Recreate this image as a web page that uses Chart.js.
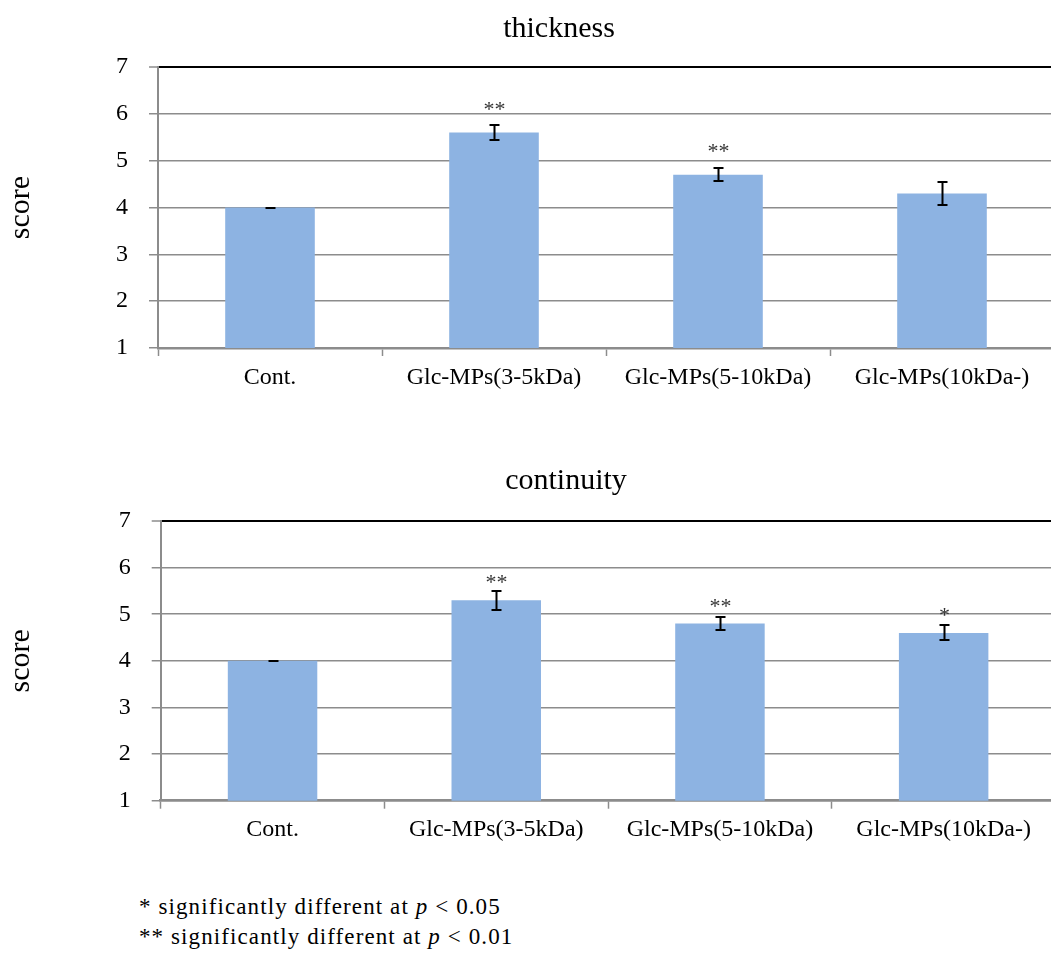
<!DOCTYPE html>
<html>
<head>
<meta charset="utf-8">
<script src="https://cdn.jsdelivr.net/npm/chart.js@4/dist/chart.umd.min.js"></script>
<style>
  html, body { margin: 0; padding: 0; overflow: hidden; background: #fff; width: 1051px; height: 956px; }
  canvas { position: absolute; left: 0; }
  #c1 { top: 0; }
  #c2 { top: 420px; }
  #note {
    position: absolute; left: 139px; top: 892px;
    font-family: "Liberation Serif", "Times New Roman", serif;
    font-size: 23px; letter-spacing: 1.1px; line-height: 30px; color: #000;
    white-space: nowrap;
  }
</style>
</head>
<body>
<canvas id="c1" width="1060" height="420"></canvas>
<canvas id="c2" width="1060" height="440"></canvas>
<div id="note">* significantly different at <i>p</i> &lt; 0.05<br>** significantly different at <i>p</i> &lt; 0.01</div>
<script>
// Groups on the x axis
const categories = ['Cont.', 'Glc-MPs(3-5kDa)', 'Glc-MPs(5-10kDa)', 'Glc-MPs(10kDa-)'];

// Thickness scores: mean, error and significance mark
const thicknessMean = [4.0, 5.6, 4.7, 4.3];
const thicknessErr  = [0.0, 0.16, 0.14, 0.25];
const thicknessSig  = ['', '**', '**', ''];

// Continuity scores: mean, error and significance mark
const continuityMean = [4.0, 5.3, 4.8, 4.6];
const continuityErr  = [0.0, 0.2, 0.14, 0.16];
const continuitySig  = ['', '**', '**', '*'];

// Score axis range
const scoreMin = 1;
const scoreMax = 7;
const scoreStep = 1;

const SERIF = '"Liberation Serif", "Times New Roman", serif';
const GRID = '#8c8c8c';

// Draws the error whiskers and the significance asterisks above each bar
const errorBarPlugin = {
  id: 'errorBars',
  afterDatasetsDraw(chart, args, opts) {
    const { ctx } = chart;
    const y = chart.scales.y;
    const meta = chart.getDatasetMeta(0);
    const values = chart.data.datasets[0].data;
    ctx.save();
    meta.data.forEach((bar, i) => {
      const v = values[i];
      const e = opts.errors[i];
      const hi = Math.round(y.getPixelForValue(v + e));
      const lo = Math.round(y.getPixelForValue(v - e));
      const x = Math.round(bar.x) + 0.5;
      ctx.strokeStyle = '#000';
      ctx.lineWidth = 2;
      ctx.beginPath();
      ctx.moveTo(x, hi); ctx.lineTo(x, lo);
      ctx.moveTo(x - 5, hi); ctx.lineTo(x + 5, hi);
      ctx.moveTo(x - 5, lo); ctx.lineTo(x + 5, lo);
      ctx.stroke();
      if (opts.marks[i]) {
        ctx.fillStyle = '#333';
        ctx.font = '22px ' + SERIF;
        ctx.textAlign = 'center';
        ctx.textBaseline = 'alphabetic';
        ctx.fillText(opts.marks[i], x, bar.y - opts.markGap);
      }
    });
    ctx.restore();
  }
};

// g.padLeft shifts the centred title; the y axis box fills the rest up to the plot edge
function scoreChart(id, title, means, errs, marks, g) {
  return new Chart(document.getElementById(id), {
    type: 'bar',
    data: {
      labels: categories,
      datasets: [{
        data: means,
        backgroundColor: '#8db3e2',
        borderWidth: 0,
        categoryPercentage: 1.0,
        barPercentage: 0.4
      }]
    },
    plugins: [errorBarPlugin],
    options: {
      responsive: false,
      animation: false,
      layout: { padding: { left: g.padLeft, right: g.padRight, top: 0, bottom: 0 } },
      plugins: {
        legend: { display: false },
        tooltip: { enabled: false },
        title: {
          display: true,
          text: title,
          color: '#000',
          font: { family: SERIF, size: 30, weight: 'normal' },
          padding: { top: g.titleTop, bottom: g.titleBottom }
        },
        errorBars: { errors: errs, marks: marks, markGap: g.markGap }
      },
      scales: {
        x: {
          afterFit(scale) { scale.height = g.xHeight; },
          grid: {
            offset: true,
            drawOnChartArea: false,
            drawTicks: true,
            tickLength: 8,
            tickColor: GRID,
            tickWidth: 1.5
          },
          border: { color: GRID, width: 2.5 },
          ticks: {
            color: '#000',
            padding: 7,
            maxRotation: 0,
            font: { family: SERIF, size: 24 }
          }
        },
        y: {
          min: scoreMin,
          max: scoreMax,
          afterFit(scale) { scale.width = g.plotLeft - g.padLeft; },
          grid: {
            color: (c) => (c.tick && c.tick.value === scoreMax ? '#000' : GRID),
            lineWidth: (c) => (c.tick && c.tick.value === scoreMax ? 2 : 1.5),
            tickColor: GRID,
            tickLength: 9,
            tickWidth: 1.5
          },
          border: { color: GRID, width: 2 },
          ticks: {
            stepSize: scoreStep,
            color: '#000',
            padding: 21,
            font: { family: SERIF, size: 24 }
          },
          title: {
            display: true,
            text: 'score',
            color: '#000',
            font: { family: SERIF, size: 30, lineHeight: 1 },
            padding: { top: 6 - g.padLeft, bottom: 0 }
          }
        }
      }
    }
  });
}

scoreChart('c1', 'thickness', thicknessMean, thicknessErr, thicknessSig,
  { titleTop: 11.6, titleBottom: 19.4, padLeft: 64, plotLeft: 158, padRight: 6, xHeight: 72, markGap: 17 });
scoreChart('c2', 'continuity', continuityMean, continuityErr, continuitySig,
  { titleTop: 43.3, titleBottom: 21.7, padLeft: 76.5, plotLeft: 160.7, padRight: 4.5, xHeight: 59.3, markGap: 11 });
</script>
</body>
</html>
